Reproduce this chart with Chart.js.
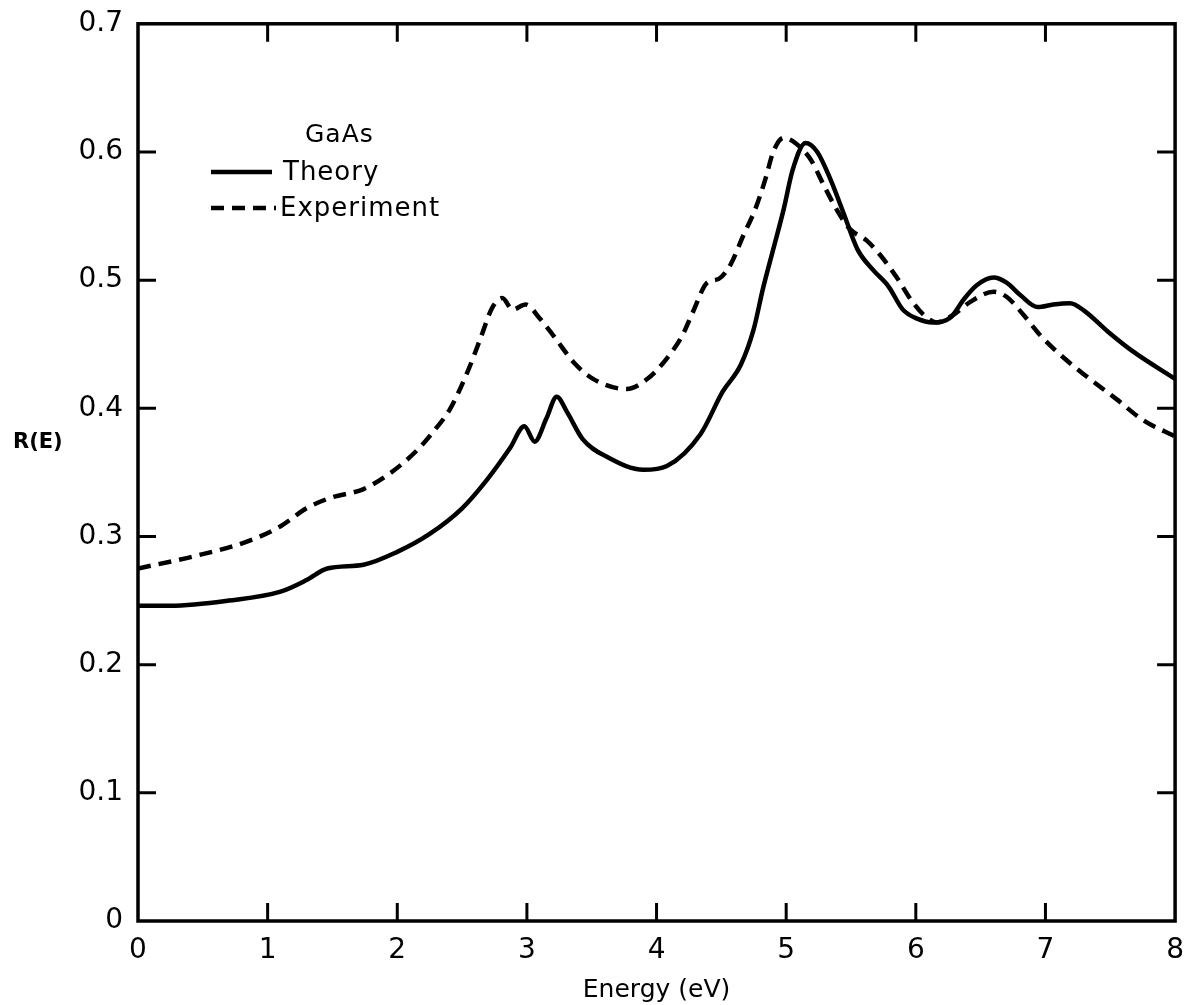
<!DOCTYPE html>
<html>
<head>
<meta charset="utf-8">
<script src="https://cdn.jsdelivr.net/npm/chart.js@4/dist/chart.umd.min.js"></script>
<style>
  html, body { margin: 0; padding: 0; background: #fff; }
  #wrap { width: 1189px; height: 1005px; position: relative; }
</style>
</head>
<body>
<div id="wrap"><canvas id="chart"></canvas></div>
<script>
  // Reflectivity of GaAs
  const theoryEnergy = [0, 0.25, 0.7, 1.1, 1.3, 1.46, 1.74, 2.0, 2.25, 2.5, 2.69, 2.87, 2.98, 3.06, 3.15, 3.23, 3.31, 3.43, 3.62, 3.9, 4.08, 4.34, 4.51, 4.65, 4.75, 4.82, 4.9, 4.98, 5.05, 5.15, 5.24, 5.34, 5.44, 5.55, 5.67, 5.79, 5.9, 6.01, 6.13, 6.27, 6.37, 6.47, 6.6, 6.7, 6.81, 6.94, 7.06, 7.19, 7.3, 7.48, 7.68, 8.0];
  const theoryR = [0.246, 0.246, 0.25, 0.257, 0.266, 0.275, 0.278, 0.288, 0.302, 0.322, 0.344, 0.369, 0.386, 0.374, 0.392, 0.409, 0.397, 0.376, 0.362, 0.352, 0.355, 0.380, 0.413, 0.434, 0.462, 0.493, 0.524, 0.555, 0.586, 0.607, 0.600, 0.579, 0.553, 0.524, 0.508, 0.495, 0.477, 0.470, 0.467, 0.471, 0.485, 0.496, 0.502, 0.498, 0.488, 0.479, 0.481, 0.482, 0.476, 0.460, 0.444, 0.423];

  const expEnergy = [0, 0.45, 0.84, 1.1, 1.3, 1.48, 1.74, 1.94, 2.15, 2.28, 2.41, 2.54, 2.64, 2.73, 2.81, 2.89, 2.99, 3.10, 3.21, 3.36, 3.51, 3.77, 3.93, 4.08, 4.2, 4.28, 4.39, 4.48, 4.57, 4.67, 4.76, 4.84, 4.9, 4.98, 5.07, 5.19, 5.29, 5.39, 5.49, 5.62, 5.73, 5.86, 5.96, 6.06, 6.16, 6.29, 6.42, 6.6, 6.7, 6.83, 6.96, 7.09, 7.29, 7.55, 7.75, 8.0];
  const expR = [0.275, 0.285, 0.296, 0.308, 0.322, 0.330, 0.337, 0.349, 0.367, 0.382, 0.400, 0.428, 0.454, 0.478, 0.486, 0.477, 0.481, 0.470, 0.456, 0.436, 0.423, 0.415, 0.423, 0.439, 0.457, 0.475, 0.498, 0.501, 0.512, 0.535, 0.555, 0.579, 0.600, 0.611, 0.607, 0.594, 0.574, 0.555, 0.540, 0.531, 0.519, 0.501, 0.485, 0.473, 0.467, 0.473, 0.483, 0.491, 0.487, 0.473, 0.457, 0.444, 0.427, 0.407, 0.391, 0.378];

  const xTickLabels = ["0", "1", "2", "3", "4", "5", "6", "7", "8"];
  const yTickLabels = ["0", "0.1", "0.2", "0.3", "0.4", "0.5", "0.6", "0.7"];
  const seriesNames = ["Theory", "Experiment"];
  const materialLabel = "GaAs";

  const FONT = "'DejaVu Sans', sans-serif";
  const INK = "#000";
  const DASH = [13, 8];

  const toPoints = (xs, ys) => xs.map((x, i) => ({ x, y: ys[i] }));

  // frame, inward ticks on all four sides, legend and the R(E) label
  const framePlugin = {
    id: "frame",
    afterDraw(chart) {
      const { ctx, chartArea: a, scales } = chart;
      const len = 18;
      ctx.save();
      ctx.strokeStyle = INK;
      ctx.lineWidth = 3.5;
      ctx.setLineDash([]);
      ctx.strokeRect(a.left, a.top, a.right - a.left, a.bottom - a.top);

      ctx.lineWidth = 3;
      ctx.beginPath();
      scales.x.ticks.forEach((t) => {
        if (t.value <= 0 || t.value >= 8) return;
        const px = scales.x.getPixelForValue(t.value);
        ctx.moveTo(px, a.bottom); ctx.lineTo(px, a.bottom - len);
        ctx.moveTo(px, a.top); ctx.lineTo(px, a.top + len);
      });
      scales.y.ticks.forEach((t) => {
        if (t.value <= 0.001 || t.value >= 0.699) return;
        const py = scales.y.getPixelForValue(t.value);
        ctx.moveTo(a.left, py); ctx.lineTo(a.left + len, py);
        ctx.moveTo(a.right, py); ctx.lineTo(a.right - len, py);
      });
      ctx.stroke();

      // legend
      ctx.fillStyle = INK;
      ctx.textBaseline = "middle";
      ctx.letterSpacing = "1px";
      ctx.font = `25px ${FONT}`;
      ctx.fillText(materialLabel, 305, 135);
      ctx.font = `26px ${FONT}`;
      ctx.lineWidth = 4.5;
      ctx.beginPath();
      ctx.moveTo(211, 172); ctx.lineTo(272, 172);
      ctx.stroke();
      ctx.setLineDash(DASH);
      ctx.beginPath();
      ctx.moveTo(211, 208); ctx.lineTo(276, 208);
      ctx.stroke();
      ctx.setLineDash([]);
      ctx.fillText(seriesNames[0], 283, 173);
      ctx.fillText(seriesNames[1], 280, 209);

      // y axis title, horizontal
      ctx.letterSpacing = "0px";
      ctx.font = `bold 21px ${FONT}`;
      ctx.fillText("R(E)", 13, 443);
      ctx.restore();
    },
  };

  new Chart(document.getElementById("chart"), {
    type: "line",
    data: {
      datasets: [
        {
          label: seriesNames[0],
          data: toPoints(theoryEnergy, theoryR),
          borderColor: INK,
          borderWidth: 4.5,
          pointRadius: 0,
          cubicInterpolationMode: "monotone",
          fill: false,
        },
        {
          label: seriesNames[1],
          data: toPoints(expEnergy, expR),
          borderColor: INK,
          borderWidth: 4.5,
          borderDash: DASH,
          pointRadius: 0,
          cubicInterpolationMode: "monotone",
          fill: false,
        },
      ],
    },
    options: {
      responsive: true,
      maintainAspectRatio: false,
      animation: false,
      layout: { padding: { left: 0, top: 19, right: 13, bottom: 0 } },
      plugins: { legend: { display: false }, tooltip: { enabled: false } },
      scales: {
        x: {
          type: "linear",
          min: 0,
          max: 8,
          grid: { display: false },
          border: { display: false },
          ticks: {
            stepSize: 1,
            color: INK,
            padding: 5,
            font: { family: FONT, size: 28 },
            callback: (v) => xTickLabels[Math.round(v)],
          },
          title: {
            display: true,
            text: "Energy (eV)",
            color: INK,
            font: { family: FONT, size: 25 },
            padding: { top: 0, bottom: 0 },
          },
          afterFit: (s) => { s.height = 84; },
        },
        y: {
          min: 0,
          max: 0.7,
          grid: { display: false },
          border: { display: false },
          ticks: {
            stepSize: 0.1,
            color: INK,
            padding: 7,
            font: { family: FONT, size: 28 },
            callback: (v) => yTickLabels[Math.round(v * 10)],
          },
          afterFit: (s) => { s.width = 138; },
        },
      },
    },
    plugins: [framePlugin],
  });
</script>
</body>
</html>
